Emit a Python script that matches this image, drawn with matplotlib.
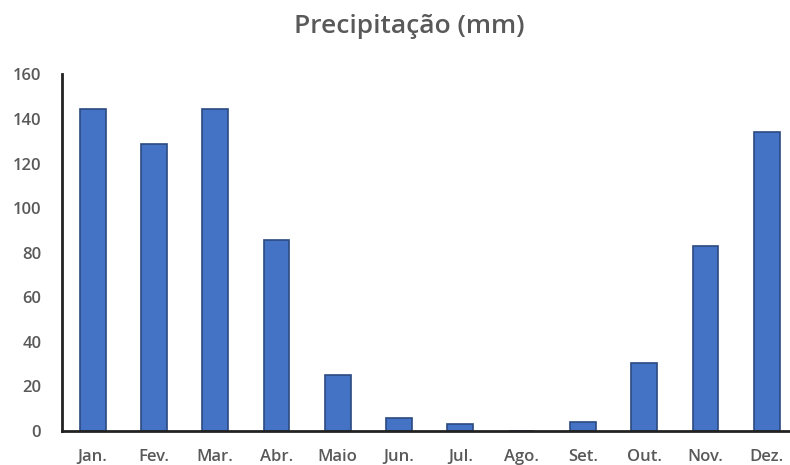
import matplotlib
matplotlib.use("Agg")
import matplotlib.pyplot as plt
import numpy as np

months = ["Jan.", "Fev.", "Mar.", "Abr.", "Maio", "Jun.", "Jul.", "Ago.", "Set.", "Out.", "Nov.", "Dez."]
precip_mm = [144.5, 129, 144.5, 85.5, 25, 6, 3, 0, 4.2, 30.3, 83, 134]
y_ticks = [0, 20, 40, 60, 80, 100, 120, 140, 160]

plt.rcParams["font.family"] = ["Open Sans", "DejaVu Sans"]

fig = plt.figure(figsize=(7.9, 4.65), dpi=100)
ax = fig.add_axes([62 / 790, 34 / 465, 1 - 62 / 790, (431 - 74.5) / 465])

x = np.arange(len(months))
ax.bar(x, precip_mm, width=0.42, color="#4472C4", edgecolor="#2B4A80", linewidth=1.2, zorder=2)

ax.set_xlim(-0.5, 11.38)
ax.set_ylim(0, 160)
ax.set_yticks(y_ticks)
ax.set_yticklabels([str(v) for v in y_ticks])
ax.set_xticks(x)
ax.set_xticklabels(months)

for side in ("top", "right"):
    ax.spines[side].set_visible(False)
for side in ("left", "bottom"):
    ax.spines[side].set_linewidth(2)
    ax.spines[side].set_color("#222222")

ax.tick_params(axis="y", length=0, pad=15, labelsize=12, labelcolor="#595959")
ax.tick_params(axis="x", length=0, pad=13, labelsize=12, labelcolor="#595959")
for lbl in ax.get_xticklabels() + ax.get_yticklabels():
    lbl.set_fontweight("semibold")

fig.text(409 / 790, 1 - 33 / 465, "Precipitação (mm)", ha="center", va="baseline",
         fontsize=19, fontweight="semibold", color="#595959")

fig.savefig("out.png", dpi=100)
